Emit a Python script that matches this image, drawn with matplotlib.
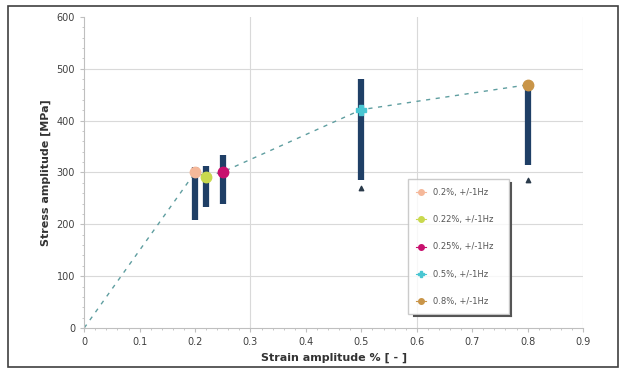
import matplotlib.pyplot as plt
import matplotlib.patches as mpatches
from matplotlib.ticker import MultipleLocator, FuncFormatter

# mean curve (dashed)
curve_x = [0.0, 0.2, 0.22, 0.25, 0.5, 0.8]
curve_y = [0, 300, 292, 301, 421, 469]

# scatter range of each test (min / max stress)
strain = [0.2, 0.22, 0.25, 0.5, 0.8]
stress_min = [208, 234, 239, 286, 315]
stress_max = [311, 313, 334, 481, 473]
stress_mean = [300, 292, 301, 421, 469]

# outliers below the bands
out_x = [0.5, 0.8]
out_y = [270, 286]

labels = ["0.2%, +/-1Hz", "0.22%, +/-1Hz", "0.25%, +/-1Hz", "0.5%, +/-1Hz", "0.8%, +/-1Hz"]
colors = ["#f5b89a", "#c9d94e", "#c8106e", "#49c6d2", "#c99548"]
markers = ["o", "o", "o", "P", "o"]

fig = plt.figure(figsize=(6.19, 3.74), dpi=100)
ax = fig.add_axes([0.136, 0.123, 0.806, 0.832])

ax.plot(curve_x, curve_y, linestyle=(0, (3, 4)), color="#5f9ea0", lw=1.0, zorder=2)
ax.vlines(strain, stress_min, stress_max, color="#1f3f66", lw=4.5, zorder=3)
ax.scatter(out_x, out_y, marker="^", s=10, color="#2a3a4a", zorder=3)

handles = []
for x, y, c, m, lab in zip(strain, stress_mean, colors, markers, labels):
    ax.plot([x], [y], marker=m, ms=7.5, color=c, mec=c, ls="none", zorder=4)
    h, = ax.plot([], [], marker=m, ms=4, color=c, lw=0.8, label=lab)
    handles.append(h)

ax.set_xlim(0, 0.9)
ax.set_ylim(0, 600)
ax.xaxis.set_major_locator(MultipleLocator(0.1))
ax.xaxis.set_minor_locator(MultipleLocator(0.02))
ax.yaxis.set_major_locator(MultipleLocator(100))
ax.yaxis.set_minor_locator(MultipleLocator(20))
ax.xaxis.set_major_formatter(FuncFormatter(lambda v, p: "0" if abs(v) < 1e-9 else f"{v:.1f}"))

for y in range(100, 600, 100):
    ax.axhline(y, color="#d9d9d9", lw=0.8, zorder=0)
for x in [0.3, 0.6, 0.9]:
    ax.axvline(x, color="#d9d9d9", lw=0.8, zorder=0)

for s in ["top", "right"]:
    ax.spines[s].set_visible(False)
for s in ["left", "bottom"]:
    ax.spines[s].set_color("#bfbfbf")
    ax.spines[s].set_linewidth(0.8)

ax.tick_params(which="both", direction="out", color="#bfbfbf", labelsize=7, labelcolor="#404040")
ax.tick_params(which="major", length=3)
ax.tick_params(which="minor", length=1.5)

ax.set_xlabel("Strain amplitude % [ - ]", fontsize=8, fontweight="bold", color="#333333")
ax.set_ylabel("Stress amplitude [MPa]", fontsize=8, fontweight="bold", color="#333333")

leg = ax.legend(handles=handles, loc="lower left", bbox_to_anchor=(0.64, 0.03, 0.22, 0.415),
                mode="expand", fontsize=6, labelspacing=2.2, frameon=True,
                fancybox=False, borderpad=1.0, handlelength=1.2)
leg.get_frame().set_edgecolor("#bfbfbf")
for t in leg.get_texts():
    t.set_color("#555555")

# thin dark shadow on right and bottom of the legend box
fig.canvas.draw()
bb = leg.get_window_extent().transformed(fig.transFigure.inverted())
fig.add_artist(plt.Line2D([bb.x1 + 0.003, bb.x1 + 0.003], [bb.y0 - 0.004, bb.y1 - 0.01],
                          transform=fig.transFigure, color="#555555", lw=1.5))
fig.add_artist(plt.Line2D([bb.x0 + 0.01, bb.x1 + 0.003], [bb.y0 - 0.004, bb.y0 - 0.004],
                          transform=fig.transFigure, color="#555555", lw=1.5))

fig.patches.append(mpatches.Rectangle((0.013, 0.018), 0.985, 0.965, transform=fig.transFigure,
                                      fill=False, edgecolor="#404040", lw=1.2))

fig.savefig("out.png", dpi=100)
